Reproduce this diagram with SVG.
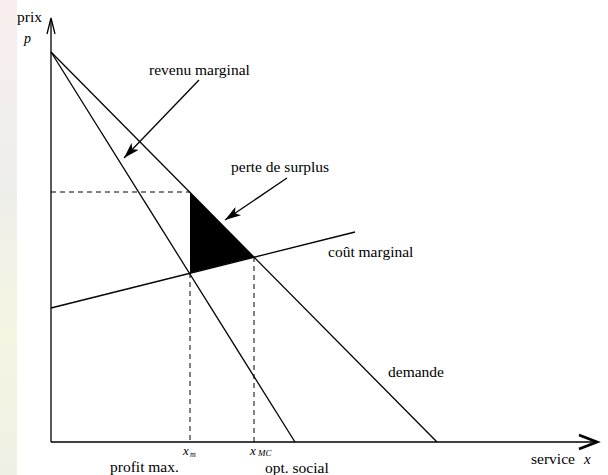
<svg xmlns="http://www.w3.org/2000/svg" width="608" height="475" viewBox="0 0 608 475">
<style>
.t{font-family:"Liberation Serif",serif;font-size:15.5px;fill:#000}
.i{font-family:"Liberation Serif",serif;font-style:italic;fill:#000}
.ln{stroke:#000;stroke-width:1.3;fill:none}
.d{stroke:#000;stroke-width:1;fill:none;stroke-dasharray:5,4}
</style>
<defs>
<linearGradient id="bg" x1="0" y1="0" x2="0" y2="1">
<stop offset="0" stop-color="#f8eeee"/>
<stop offset="0.4" stop-color="#eeeeea"/>
<stop offset="0.7" stop-color="#f6f5e2"/>
<stop offset="1" stop-color="#eef0e4"/>
</linearGradient>
<marker id="ah" viewBox="0 0 16 10" refX="16" refY="5" markerWidth="16" markerHeight="10" markerUnits="userSpaceOnUse" orient="auto">
<path d="M0,0 L16,5 L0,10 L4,5 Z" fill="#000"/>
</marker>
</defs>
<rect width="608" height="475" fill="#fff"/>
<rect x="0" y="0" width="17" height="475" fill="url(#bg)"/>
<g id="axes">
<line class="ln" x1="51" y1="442" x2="51" y2="19"/>
<polyline class="ln" points="47,34 51,18 55,34"/>
<line class="ln" x1="51" y1="442" x2="597" y2="442"/>
<polyline points="579,435 597,442 579,449" fill="none" stroke="#000" stroke-width="2.8"/>
</g>
<g id="surplus-loss">
<polygon points="190,192 190,273 254,257" fill="#000"/>
</g>
<g id="connectors">
<line id="demand" class="ln" x1="51" y1="52" x2="437" y2="442"/>
<line id="marginal-revenue" class="ln" x1="51" y1="52" x2="295" y2="442"/>
<line id="marginal-cost" class="ln" x1="51" y1="308" x2="355" y2="232"/>
<line class="d" x1="51" y1="192" x2="190" y2="192"/>
<line class="d" x1="190" y1="273" x2="190" y2="442"/>
<line class="d" x1="254" y1="257" x2="254" y2="442"/>
<line class="ln" x1="199" y1="80" x2="124" y2="158" marker-end="url(#ah)"/>
<line class="ln" x1="287" y1="178" x2="225" y2="220" marker-end="url(#ah)"/>
</g>
<g id="labels">
<text class="t" x="17" y="22" font-size="13">prix</text>
<text class="i" x="24" y="43" font-size="14">p</text>
<text class="t" x="149" y="75">revenu marginal</text>
<text class="t" x="231" y="172">perte de surplus</text>
<text class="t" x="328" y="257">coût marginal</text>
<text class="t" x="388" y="377">demande</text>
<text class="t" x="531" y="464" font-size="14">service</text>
<text class="i" x="584" y="464" font-size="15">x</text>
<text class="i" x="183" y="455" font-size="13">x</text>
<text class="i" x="190" y="457" font-size="8">m</text>
<text class="i" x="250" y="455" font-size="13">x</text>
<text class="i" x="258" y="456" font-size="9">MC</text>
<text class="t" x="110" y="472">profit max.</text>
<text class="t" x="265" y="473">opt. social</text>
</g>
</svg>
